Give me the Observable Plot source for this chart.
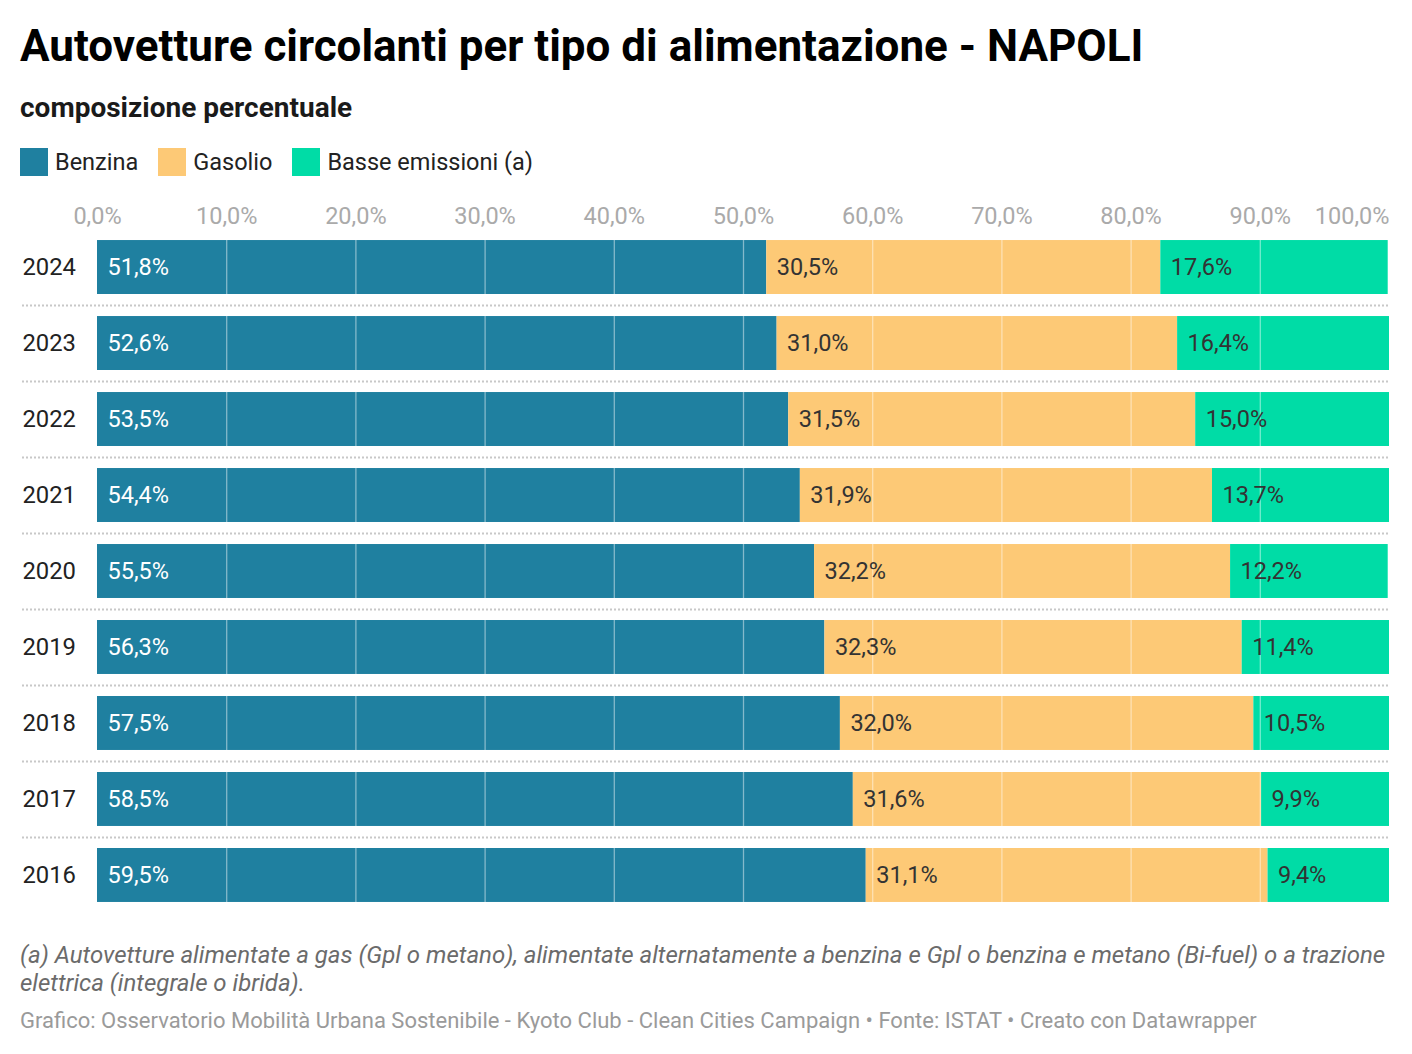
<!DOCTYPE html>
<html>
<head>
<meta charset="utf-8">
<script src="https://cdn.jsdelivr.net/npm/d3@7"></script>
<script src="https://cdn.jsdelivr.net/npm/@observablehq/plot@0.6"></script>
<style>
  body { margin: 0; background: #fff; font-family: Roboto, sans-serif; width: 1412px; height: 1054px; position: relative; overflow: hidden; }
  .abs { position: absolute; left: 20px; }
  #title { top: 20px; font-size: 44px; font-weight: 700; color: #000; line-height: 52px; white-space: nowrap; }
  #subtitle { top: 91px; font-size: 28px; font-weight: 700; color: #1a1a1a; line-height: 33px; }
  #legend { top: 148px; display: flex; align-items: center; font-size: 23.5px; color: #222; line-height: 28px; }
  #legend .item { display: flex; align-items: center; margin-right: 20px; }
  #legend .sw { width: 28px; height: 28px; margin-right: 7px; }
  #chart { position: absolute; left: 20px; top: 190px; }
  #notes { top: 941px; font-size: 24px; font-style: italic; color: #6b6b6b; line-height: 28px; width: 1380px; }
  #credits { top: 1007px; font-size: 22px; color: #9a9a9a; line-height: 28px; white-space: nowrap; }
</style>
</head>
<body>
<div id="title" class="abs">Autovetture circolanti per tipo di alimentazione - NAPOLI</div>
<div id="subtitle" class="abs">composizione percentuale</div>
<div id="legend" class="abs"></div>
<div id="chart"></div>
<div id="notes" class="abs">(a) Autovetture alimentate a gas (Gpl o metano), alimentate alternatamente a benzina e Gpl o benzina e metano (Bi-fuel) o a trazione elettrica (integrale o ibrida).</div>
<div id="credits" class="abs">Grafico: Osservatorio Mobilità Urbana Sostenibile - Kyoto Club - Clean Cities Campaign • Fonte: ISTAT • Creato con Datawrapper</div>
<script>
const years = ["2024", "2023", "2022", "2021", "2020", "2019", "2018", "2017", "2016"];
const types = ["Benzina", "Gasolio", "Basse emissioni (a)"];
const colors = ["#1f80a0", "#fdc976", "#00dca6"];
const benzina = [51.8, 52.6, 53.5, 54.4, 55.5, 56.3, 57.5, 58.5, 59.5];
const gasolio = [30.5, 31.0, 31.5, 31.9, 32.2, 32.3, 32.0, 31.6, 31.1];
const basse = [17.6, 16.4, 15.0, 13.7, 12.2, 11.4, 10.5, 9.9, 9.4];
const ticks = [0, 10, 20, 30, 40, 50, 60, 70, 80, 90, 100];

const series = [benzina, gasolio, basse];
const data = [];
years.forEach((y, i) => types.forEach((t, j) => data.push({year: y, type: t, value: series[j][i]})));
const fmt = v => v.toFixed(1).replace(".", ",") + "%";

// legend
const lg = document.getElementById("legend");
types.forEach((t, j) => {
  const it = document.createElement("div");
  it.className = "item";
  it.innerHTML = `<div class="sw" style="background:${colors[j]}"></div><span>${t}</span>`;
  lg.appendChild(it);
});

const grid = [];
years.forEach(y => ticks.filter(t => t > 0 && t < 100).forEach(t => grid.push({year: y, t})));

const chart = Plot.plot({
  width: 1372,
  height: 734,
  marginLeft: 77,
  marginRight: 3,
  marginTop: 28,
  marginBottom: 0,
  style: {fontFamily: "Roboto, sans-serif", fontSize: "24px", background: "white"},
  x: {domain: [0, 100], axis: null},
  y: {domain: years, axis: null, padding: 0.29, round: false},
  color: {domain: types, range: colors},
  marks: [
    Plot.ruleY(years.slice(0, -1), {y: d => d, dy: 38, stroke: "#c8c8c8", strokeWidth: 2, strokeDasharray: "2,2", insetLeft: -75}),
    Plot.barX(data, {x: "value", y: "year", fill: "type", order: types}),
    Plot.tickX(grid, {x: "t", y: "year", stroke: "white", strokeOpacity: 0.45, strokeWidth: 1.3}),
    Plot.text(data, Plot.stackX1({x: "value", y: "year", z: "type", order: types,
      text: d => d.type === "Benzina" ? fmt(d.value) : "", fill: "white", textAnchor: "start", dx: 10, fontSize: 23.5})),
    Plot.text(data, Plot.stackX1({x: "value", y: "year", z: "type", order: types,
      text: d => d.type !== "Benzina" ? fmt(d.value) : "", fill: "#333", textAnchor: "start", dx: 10, fontSize: 23.5})),
    Plot.text(years, {y: d => d, text: d => d, frameAnchor: "left", textAnchor: "start", dx: -75, fill: "#222", fontSize: 23.8}),
    Plot.text(ticks.filter(t => t < 100), {x: d => d, text: fmt, frameAnchor: "top", lineAnchor: "middle", dy: -2, fill: "#aaaaaa", fontSize: 23.5}),
    Plot.text(ticks.filter(t => t === 100), {x: d => d, text: fmt, frameAnchor: "top", lineAnchor: "middle", dy: -2, textAnchor: "end", fill: "#aaaaaa", fontSize: 23.5})
  ]
});
document.getElementById("chart").appendChild(chart);
</script>
</body>
</html>
